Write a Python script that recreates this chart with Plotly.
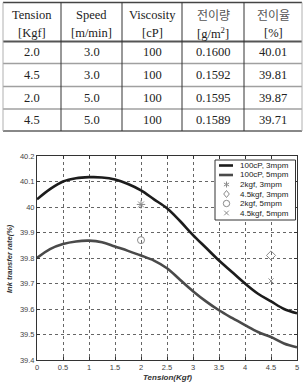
import math
import plotly.graph_objects as go

W, H = 305, 382

# ---------------- data ----------------
header_top = ["Tension", "Speed", "Viscosity", "전이량", "전이율"]
header_bottom = ["[Kgf]", "[m/min]", "[cP]", "[g/m<sup>2</sup>]", "[%]"]
tension = [2.0, 4.5, 2.0, 4.5]
speed = [3.0, 3.0, 5.0, 5.0]
viscosity = [100, 100, 100, 100]
transfer_amount = [0.1600, 0.1592, 0.1595, 0.1589]
transfer_rate = [40.01, 39.81, 39.87, 39.71]

curve_x = [0, 0.25, 0.5, 0.75, 1.0, 1.25, 1.5, 1.75, 2.0, 2.25, 2.5,
           2.75, 3.0, 3.25, 3.5, 3.75, 4.0, 4.25, 4.5, 4.75, 5.0]
curve_3mpm = [40.03, 40.07, 40.10, 40.113, 40.117, 40.116, 40.108, 40.09,
              40.065, 40.03, 39.995, 39.945, 39.89, 39.84, 39.79, 39.745,
              39.70, 39.66, 39.63, 39.60, 39.583]
curve_5mpm = [39.80, 39.835, 39.855, 39.865, 39.868, 39.862, 39.845, 39.828,
              39.81, 39.79, 39.76, 39.715, 39.67, 39.63, 39.595, 39.565,
              39.537, 39.51, 39.49, 39.465, 39.45]

curve_names = ["100cP, 3mpm", "100cP, 5mpm"]
point_names = ["2kgf, 3mpm", "4.5kgf, 3mpm", "2kgf, 5mpm", "4.5kgf, 5mpm"]

x_ticks = [0, 0.5, 1, 1.5, 2, 2.5, 3, 3.5, 4, 4.5, 5]
x_ticktext = ["0", "0.5", "1", "1.5", "2", "2.5", "3", "3.5", "4", "4.5", "5"]
y_ticks = [39.4, 39.5, 39.6, 39.7, 39.8, 39.9, 40.0, 40.1, 40.2]
y_ticktext = ["39.4", "39.5", "39.6", "39.7", "39.8", "39.9", "40", "40.1", "40.2"]


def px(x):
    return x / W


def py(y):
    return 1 - y / H


fig = go.Figure()

# ---------------- curves ----------------
curve_colors = ["#1c1c1c", "#4a4a4a"]
for name, ys, c in zip(curve_names, [curve_3mpm, curve_5mpm], curve_colors):
    fig.add_trace(go.Scatter(x=curve_x, y=ys, mode="lines", name=name,
                             line=dict(color=c, width=2.6, shape="spline"),
                             showlegend=False))

# ---------------- experimental points ----------------
marker_gray = "#8a8a8a"
symbols = ["asterisk-open", "diamond-open", "circle-open", "x-thin-open"]
sizes = [7, 7, 7, 5]
for i in range(4):
    fig.add_trace(go.Scatter(x=[tension[i]], y=[transfer_rate[i]], mode="markers",
                             name=point_names[i],
                             marker=dict(symbol=symbols[i], size=sizes[i],
                                         color=marker_gray, line=dict(width=1, color=marker_gray)),
                             showlegend=False))

shapes = []
annotations = []

# ---------------- table ----------------
col_edges = [3, 61, 122, 182, 244, 302]
col_centers = [(col_edges[i] + col_edges[i + 1]) / 2 for i in range(5)]
row_lines = [(2.5, "#444", 1.5), (41.5, "#555", 2), (63.5, "#a0a0a0", 1.5),
             (86.5, "#a0a0a0", 1.5), (109, "#a0a0a0", 1.5), (131, "#888", 2)]
for yy, c, w in row_lines:
    shapes.append(dict(type="line", xref="paper", yref="paper",
                       x0=px(col_edges[0]), x1=px(col_edges[-1]), y0=py(yy), y1=py(yy),
                       line=dict(color=c, width=w)))
for i, xx in enumerate(col_edges):
    c = "#b0b0b0" if i in (0, len(col_edges) - 1) else "#333"
    shapes.append(dict(type="line", xref="paper", yref="paper",
                       x0=px(xx), x1=px(xx), y0=py(2.5), y1=py(131),
                       line=dict(color=c, width=1)))

serif = "Liberation Serif"
kor = "Noto Sans CJK KR"
for i in range(5):
    is_kor = i >= 3
    annotations.append(dict(xref="paper", yref="paper", x=px(col_centers[i]), y=py(15),
                            text=header_top[i], showarrow=False, xanchor="center",
                            yanchor="middle",
                            font=dict(family=kor if is_kor else serif,
                                      size=12 if is_kor else 12.5,
                                      color="#555" if is_kor else "#222")))
    annotations.append(dict(xref="paper", yref="paper", x=px(col_centers[i]), y=py(32.5),
                            text=header_bottom[i], showarrow=False, xanchor="center",
                            yanchor="middle", font=dict(family=serif, size=12.5, color="#222")))

row_centers = [52.5, 75, 98, 120.5]
for r in range(4):
    vals = [f"{tension[r]:.1f}", f"{speed[r]:.1f}", f"{viscosity[r]}",
            f"{transfer_amount[r]:.4f}", f"{transfer_rate[r]:.2f}"]
    for i in range(5):
        annotations.append(dict(xref="paper", yref="paper", x=px(col_centers[i]),
                                y=py(row_centers[r]), text=vals[i], showarrow=False,
                                xanchor="center", yanchor="middle",
                                font=dict(family=serif, size=12.5, color="#222")))

# ---------------- legend (manual) ----------------
shapes.append(dict(type="rect", xref="paper", yref="paper", layer="above",
                   x0=px(215), x1=px(295.5), y0=py(160), y1=py(220),
                   fillcolor="white", line=dict(color="#333", width=1)))
leg_rows = [165.5, 175, 184.5, 194, 203.5, 213]
for k in range(2):
    shapes.append(dict(type="line", xref="paper", yref="paper", layer="above",
                       x0=px(219), x1=px(233), y0=py(leg_rows[k]), y1=py(leg_rows[k]),
                       line=dict(color=curve_colors[k], width=2.6)))

mx = 226.5


def seg(x0, y0, x1, y1):
    return dict(type="line", xref="paper", yref="paper", layer="above",
                x0=px(x0), y0=py(y0), x1=px(x1), y1=py(y1),
                line=dict(color=marker_gray, width=1))


# asterisk
yc = leg_rows[2]
r = 3
for ang in (90, 30, -30):
    dx = r * math.cos(math.radians(ang))
    dy = r * math.sin(math.radians(ang))
    shapes.append(seg(mx - dx, yc - dy, mx + dx, yc + dy))
# diamond
yc = leg_rows[3]
r = 3.5
shapes.append(dict(type="path", xref="paper", yref="paper", layer="above",
                   path=(f"M {px(mx)},{py(yc - r)} L {px(mx + r * 0.8)},{py(yc)} "
                         f"L {px(mx)},{py(yc + r)} L {px(mx - r * 0.8)},{py(yc)} Z"),
                   line=dict(color=marker_gray, width=1)))
# circle
yc = leg_rows[4]
r = 3.2
shapes.append(dict(type="circle", xref="paper", yref="paper", layer="above",
                   x0=px(mx - r), x1=px(mx + r), y0=py(yc - r), y1=py(yc + r),
                   line=dict(color=marker_gray, width=1)))
# x
yc = leg_rows[5]
r = 2.3
shapes.append(seg(mx - r, yc - r, mx + r, yc + r))
shapes.append(seg(mx - r, yc + r, mx + r, yc - r))

for k, name in enumerate(curve_names + point_names):
    annotations.append(dict(xref="paper", yref="paper", x=px(238), y=py(leg_rows[k]),
                            text=name, showarrow=False, xanchor="left", yanchor="middle",
                            font=dict(family="Liberation Sans", size=8, color="#222")))

# ---------------- axis titles ----------------
annotations.append(dict(xref="paper", yref="paper", x=px(167), y=py(377),
                        text="<b><i>Tension(Kgf)</i></b>", showarrow=False,
                        xanchor="center", yanchor="middle",
                        font=dict(family="Liberation Sans", size=8, color="#333")))
annotations.append(dict(xref="paper", yref="paper", x=px(9), y=py(259),
                        text="<b><i>Ink transfer rate(%)</i></b>", showarrow=False,
                        textangle=-90, xanchor="center", yanchor="middle",
                        font=dict(family="Liberation Sans", size=7.5, color="#333")))

axis_common = dict(showline=True, linecolor="#333", linewidth=1, mirror="ticks",
                   ticks="inside", ticklen=3, tickcolor="#333",
                   showgrid=True, gridcolor="#666", gridwidth=1, griddash="dot",
                   zeroline=False, automargin=False,
                   tickfont=dict(family="Liberation Sans", size=7.5, color="#444"))

fig.update_layout(
    width=W, height=H,
    margin=dict(l=0, r=0, t=0, b=0),
    paper_bgcolor="white", plot_bgcolor="white",
    showlegend=False,
    xaxis=dict(domain=[px(37), px(297)], range=[0, 5], tickvals=x_ticks,
               ticktext=x_ticktext, **axis_common),
    yaxis=dict(domain=[py(360), py(156)], range=[39.4, 40.2], tickvals=y_ticks,
               ticktext=y_ticktext, **axis_common),
    shapes=shapes,
    annotations=annotations,
)

fig.write_html("out.html")
